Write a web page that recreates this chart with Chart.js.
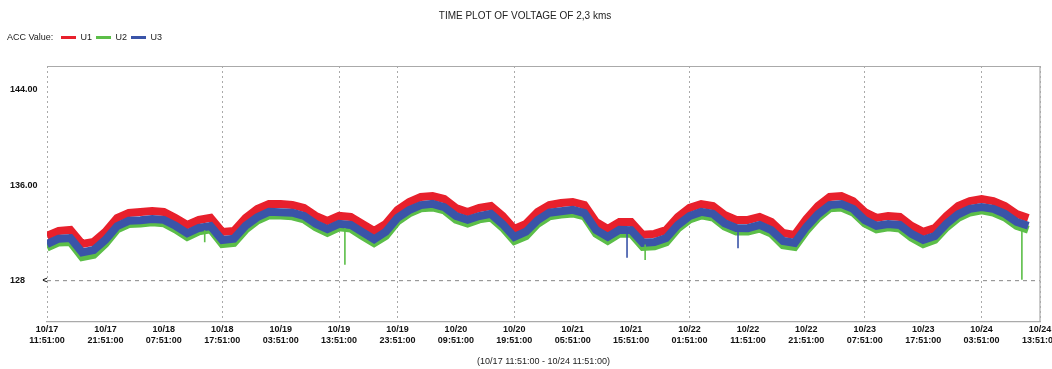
<!DOCTYPE html>
<html><head><meta charset="utf-8">
<script src="https://cdn.jsdelivr.net/npm/chart.js@4.4.1/dist/chart.umd.min.js"></script>
<style>html,body{margin:0;padding:0;background:#fff;}#wrap{width:1052px;height:369px;}</style>
</head><body><div id="wrap"><canvas id="c" width="1052" height="369"></canvas></div>
<script>
const chartTitle = 'TIME PLOT OF VOLTAGE OF 2,3 kms';
const legendLead = 'ACC Value:';
const seriesNames = ['U1', 'U2', 'U3'];
const rangeText = '(10/17 11:51:00 - 10/24 11:51:00)';
const sampleStepHours = 2;
const u1 = [
 131.73,132.15,132.23,131.06,131.23,132.07,133.24,133.66,133.74,133.82,
 133.74,133.24,132.65,133.07,133.24,132.07,132.15,133.24,133.99,134.41,
 134.41,134.33,134.08,133.41,132.99,133.41,133.32,132.74,132.15,132.74,
 133.91,134.58,135.00,135.08,134.83,134.08,133.74,134.08,134.24,133.41,
 132.32,132.74,133.74,134.33,134.49,134.58,134.33,132.90,132.32,132.90,
 132.90,131.82,131.90,132.23,133.32,134.08,134.41,134.24,133.49,133.07,
 133.07,133.32,132.90,131.98,131.82,133.15,134.24,135.00,135.08,134.66,
 133.74,133.24,133.41,133.32,132.57,132.07,132.40,133.41,134.24,134.66,
 134.83,134.66,134.24,133.57,133.24];
const u2 = [
 130.75,131.18,131.22,129.95,130.15,131.08,132.28,132.72,132.78,132.88,
 132.80,132.28,131.65,132.12,132.28,131.05,131.15,132.25,133.02,133.45,
 133.45,133.38,133.12,132.45,131.98,132.45,132.35,131.72,131.12,131.72,
 132.95,133.62,134.05,134.12,133.88,133.10,132.78,133.12,133.28,132.42,
 131.30,131.72,132.75,133.38,133.52,133.62,133.38,131.90,131.32,131.92,
 131.92,130.80,130.85,131.20,132.35,133.10,133.45,133.28,132.52,132.10,
 132.10,132.35,131.92,130.95,130.80,132.15,133.25,134.05,134.12,133.70,
 132.78,132.28,132.45,132.35,131.58,131.05,131.40,132.45,133.25,133.70,
 133.88,133.70,133.28,132.58,132.25];
const u3 = [
 131.05,131.50,131.55,130.35,130.55,131.40,132.55,133.00,133.05,133.15,
 133.08,132.58,131.95,132.40,132.55,131.38,131.50,132.58,133.30,133.75,
 133.72,133.68,133.40,132.75,132.30,132.75,132.65,132.05,131.45,132.08,
 133.25,133.90,134.32,134.42,134.15,133.40,133.08,133.40,133.58,132.72,
 131.65,132.08,133.05,133.68,133.80,133.92,133.65,132.22,131.65,132.25,
 132.22,131.15,131.22,131.55,132.65,133.40,133.75,133.58,132.80,132.40,
 132.38,132.65,132.22,131.30,131.15,132.48,133.55,134.32,134.40,134.00,
 133.05,132.58,132.72,132.65,131.90,131.40,131.72,132.75,133.55,134.00,
 134.15,134.00,133.58,132.90,132.58];
// short drops: [hour, top value, lowest value]
const u2Drops = [[27.0,132.2,131.2],[51.0,132.4,129.3],[102.4,131.0,129.7],[166.9,132.2,128.05]];
const u3Drops = [[99.3,132.3,129.9],[118.3,132.5,130.7]];
const tickHours = [0,10,20,30,40,50,60,70,80,90,100,110,120,130,140,150,160,170];
const tickDates = ['10/17','10/17','10/18','10/18','10/19','10/19','10/19','10/20','10/20','10/21','10/21','10/22','10/22','10/22','10/23','10/23','10/24','10/24'];
const tickTimes = ['11:51:00','21:51:00','07:51:00','17:51:00','03:51:00','13:51:00','23:51:00','09:51:00','19:51:00','05:51:00','15:51:00','01:51:00','11:51:00','21:51:00','07:51:00','17:51:00','03:51:00','13:51:00'];
const gridHours = [0,30,50,60,80,110,140,160,170];
const yTicks = [128,136,144];
const yLabels = {144:'144.00', 136:'136.00', 128:'128       <'};
const refLevel = 128;

const colors = ['rgb(232,32,44)','rgb(92,190,72)','rgb(58,84,168)'];
const toPts = arr => arr.map((v,i)=>({x:i*sampleStepHours, y:v}));
const drops = (list,color) => list.map(d=>({label:'', data:[{x:d[0],y:d[1]},{x:d[0],y:d[2]}], borderColor:color, borderWidth:1.6, pointRadius:0, order:0}));

const legendPlug = {
  id:'legendPlug',
  afterLayout(chart){ const l=chart.legend; l.left+=47; l.right+=47; l.top-=14; l.bottom-=14; },
  afterDraw(chart){
    const l=chart.legend, ctx=chart.ctx;
    ctx.save(); ctx.font='9px "Liberation Sans", Arial'; ctx.fillStyle='#222'; ctx.textBaseline='middle';
    ctx.fillText(legendLead, 7, l.top+4+4.5);
    const a=chart.chartArea; ctx.strokeStyle='#aaa'; ctx.lineWidth=1.2;
    ctx.beginPath(); ctx.moveTo(a.left,a.top+0.5); ctx.lineTo(a.right,a.top+0.5); ctx.lineTo(a.right,a.bottom); ctx.stroke();
    ctx.restore();
  }
};

new Chart(document.getElementById('c'), {
  type:'line',
  data:{ datasets:[
    {label:seriesNames[0], data:toPts(u1), borderColor:colors[0], borderWidth:8, pointRadius:0, tension:0, order:3},
    {label:seriesNames[1], data:toPts(u2), borderColor:colors[1], borderWidth:8, pointRadius:0, tension:0, order:2},
    {label:seriesNames[2], data:toPts(u3), borderColor:colors[2], borderWidth:8, pointRadius:0, tension:0, order:1},
    ...drops(u2Drops, colors[1]), ...drops(u3Drops, colors[2])
  ]},
  options:{
    responsive:false, animation:false, devicePixelRatio:1,
    layout:{padding:{left:10, right:12, top:0, bottom:0}},
    plugins:{
      title:{display:true, text:chartTitle, color:'#222', font:{family:'"Liberation Sans", Arial', size:10, weight:'normal'}, padding:{top:10, bottom:21}},
      legend:{display:true, align:'start', labels:{
        font:{family:'"Liberation Sans", Arial', size:9}, color:'#222', boxWidth:15, boxHeight:3, padding:4,
        generateLabels: ch => ch.data.datasets.slice(0,3).map((d,i)=>({text:d.label, fillStyle:d.borderColor, strokeStyle:d.borderColor, lineWidth:0, datasetIndex:i, hidden:false, fontColor:'#222'}))
      }},
      tooltip:{enabled:false}
    },
    scales:{
      x:{type:'linear', min:0, max:170,
        afterBuildTicks: s => { s.ticks = tickHours.map(v=>({value:v})); },
        afterFit: s => { s.paddingLeft=0; s.paddingRight=0; s.height=47; },
        ticks:{autoSkip:false, maxRotation:0, padding:2, color:'#111', font:{family:'"Liberation Sans", Arial', size:9, weight:'bold'},
          callback:(v,i)=>[tickDates[i], tickTimes[i]]},
        grid:{drawTicks:false, lineWidth:1, color: c => (c.tick && gridHours.includes(c.tick.value)) ? '#aaa' : 'rgba(0,0,0,0)'},
        border:{display:true, color:'#aaa', width:1.2, dash:[2,3]},
        title:{display:true, text:rangeText, color:'#222', font:{family:'"Liberation Sans", Arial', size:9}, padding:{top:6, bottom:2}}
      },
      y:{type:'linear', min:124.5, max:146,
        afterBuildTicks: s => { s.ticks = yTicks.map(v=>({value:v})); },
        afterFit: s => { s.width = 37; },
        ticks:{crossAlign:'far', padding:4, color:'#111', font:{family:'"Liberation Sans", Arial', size:9, weight:'bold'},
          callback: v => yLabels[v] || ''},
        grid:{drawTicks:false, lineWidth:1.2, color: c => (c.tick && c.tick.value===refLevel) ? '#999' : 'rgba(0,0,0,0)'},
        border:{display:false, dash:[4,4]}
      }
    }
  },
  plugins:[legendPlug]
});
</script></body></html>
